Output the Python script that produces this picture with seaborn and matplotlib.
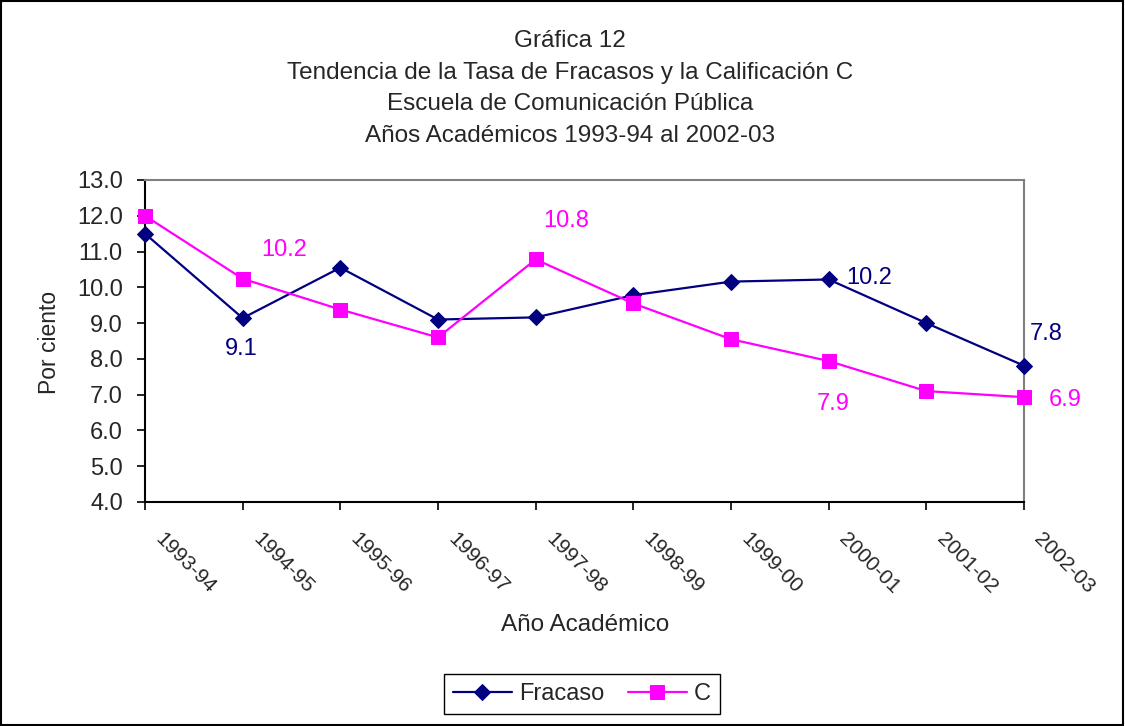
import warnings
warnings.filterwarnings('ignore')

import numpy as np
import pandas as pd
import seaborn as sns
import matplotlib.pyplot as plt
from matplotlib.patches import Rectangle
from matplotlib.transforms import ScaledTranslation

# data
years = ['1993-94', '1994-95', '1995-96', '1996-97', '1997-98',
         '1998-99', '1999-00', '2000-01', '2001-02', '2002-03']
fracaso = [11.5, 9.14, 10.55, 9.1, 9.16, 9.78, 10.16, 10.22, 9.0, 7.81]
calif_c = [12.0, 10.24, 9.38, 8.6, 10.78, 9.55, 8.55, 7.94, 7.1, 6.93]

# value labels: index -> offset in points
labels_fracaso = {1: (-1, -22), 7: (29, 1), 9: (16, 23)}
labels_c = {1: (30, 21), 4: (22, 28), 7: (3, -31), 9: (30, -2)}

navy = '#000080'
magenta = '#FF00FF'

sns.set_style('white')
plt.rcParams['font.family'] = ['Liberation Sans', 'DejaVu Sans']

fig = plt.figure(figsize=(11.25, 7.26), dpi=100)
ax = fig.add_axes([145 / 1125, 1 - 502 / 726, 879 / 1125, 322 / 726])

df = pd.DataFrame({'year': years, 'Fracaso': fracaso, 'C': calif_c})
x = np.arange(len(years))

sns.lineplot(x=x, y=df['Fracaso'], ax=ax, color=navy, lw=1.6, clip_on=False,
             marker='D', markersize=8, markeredgecolor=navy, label='Fracaso',
             zorder=3)
sns.lineplot(x=x, y=df['C'], ax=ax, color=magenta, lw=1.6, clip_on=False,
             marker='s', markersize=10, markeredgecolor=magenta, label='C',
             zorder=3)

for i, (dx, dy) in labels_fracaso.items():
    ax.annotate(f'{fracaso[i]:.1f}', (x[i], fracaso[i]), xytext=(dx, dy),
                textcoords='offset points', ha='center', va='center',
                color=navy, fontsize=17)
for i, (dx, dy) in labels_c.items():
    ax.annotate(f'{calif_c[i]:.1f}', (x[i], calif_c[i]), xytext=(dx, dy),
                textcoords='offset points', ha='center', va='center',
                color=magenta, fontsize=17)

ax.set_xlim(0, len(years) - 1)
ax.set_ylim(4, 13)
yt = np.arange(4, 13.1, 1)
ax.set_yticks(yt)
ax.set_yticklabels([f'{v:.1f}' for v in yt], fontsize=17)
ax.set_xticks(x)
ax.set_xticklabels(years, fontsize=15, rotation=-45, ha='left', va='top',
                   rotation_mode='anchor')
ax.tick_params(axis='both', direction='out', length=6, width=1.2,
               color='black', bottom=True, left=True)
ax.tick_params(axis='x', pad=13)
ax.tick_params(axis='y', pad=10)
ax.grid(False)

shift = ScaledTranslation(0.2, -0.01, fig.dpi_scale_trans)
for lab in ax.get_xticklabels():
    lab.set_transform(lab.get_transform() + shift)

for side in ['left', 'bottom']:
    ax.spines[side].set_color('black')
    ax.spines[side].set_linewidth(1.5)
for side in ['top', 'right']:
    ax.spines[side].set_color('#808080')
    ax.spines[side].set_linewidth(1.5)

ax.set_xlabel('Año Académico', fontsize=17.5)
ax.xaxis.label.set_va('center')
ax.xaxis.set_label_coords((585 - 145) / 879, (502 - 625) / 322)
ax.set_ylabel('Por ciento', fontsize=16.5)
ax.yaxis.label.set_va('center')
ax.yaxis.set_label_coords((49 - 145) / 879, (502 - 342) / 322)

titles = ['Gráfica 12',
          'Tendencia de la Tasa de Fracasos y la Calificación C',
          'Escuela de Comunicación Pública',
          'Años Académicos 1993-94 al 2002-03']
for k, t in enumerate(titles):
    fig.text(570 / 1125, 1 - (41 + 31.7 * k) / 726, t, ha='center',
             va='center', fontsize=17.5)

ax.get_legend().remove()
fig.legend(*ax.get_legend_handles_labels(), loc='center', ncol=2,
           bbox_to_anchor=(582 / 1125, 1 - 694 / 726), fontsize=17,
           frameon=True, fancybox=False, edgecolor='black', framealpha=1,
           handlelength=2.5, columnspacing=1.0, handletextpad=0.3,
           borderpad=0.4)

fig.patches.append(Rectangle((0.001, 0.001), 0.997, 0.997, fill=False,
                             edgecolor='black', lw=1.5,
                             transform=fig.transFigure, figure=fig))

fig.savefig('out.png', dpi=100)
